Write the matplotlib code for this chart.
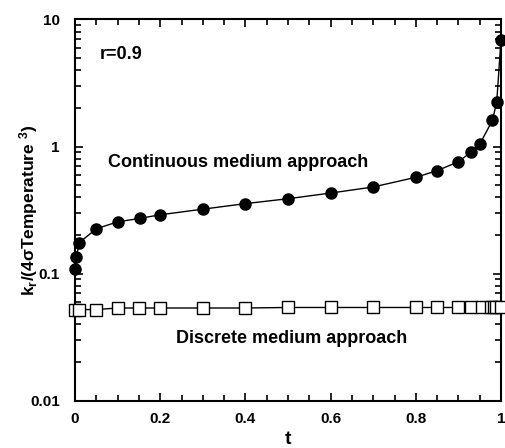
import matplotlib
matplotlib.use("Agg")
import matplotlib.pyplot as plt
from matplotlib.ticker import MultipleLocator, LogLocator, NullFormatter, FixedLocator, FixedFormatter

plt.rcParams['font.family'] = ['Liberation Sans', 'DejaVu Sans']
plt.rcParams['font.weight'] = 'bold'
plt.rcParams['mathtext.fontset'] = 'custom'
plt.rcParams['mathtext.rm'] = 'Liberation Sans:bold'
plt.rcParams['mathtext.default'] = 'rm'

# continuous medium approach
t_cont = [0.001, 0.003, 0.01, 0.05, 0.1, 0.153, 0.2, 0.3, 0.4, 0.5, 0.6, 0.7,
          0.8, 0.85, 0.9, 0.93, 0.95, 0.98, 0.99, 1.0]
k_cont = [0.108, 0.134, 0.175, 0.225, 0.255, 0.272, 0.290, 0.321, 0.355, 0.388,
          0.430, 0.480, 0.572, 0.645, 0.759, 0.905, 1.04, 1.61, 2.25, 6.93]

# discrete medium approach
t_disc = [0.0, 0.01, 0.05, 0.1, 0.15, 0.2, 0.3, 0.4, 0.5, 0.6, 0.7, 0.8, 0.85,
          0.9, 0.93, 0.955, 0.977, 0.983, 0.988, 1.0]
k_disc = [0.052, 0.052, 0.052, 0.0535, 0.0535, 0.0535, 0.0535, 0.0535, 0.054, 0.054,
          0.054, 0.054, 0.054, 0.054, 0.054, 0.054, 0.054, 0.054, 0.054, 0.054]

fig = plt.figure(figsize=(5.06, 4.48), dpi=100)
ax = fig.add_axes([75 / 506, 1 - 400.5 / 448, 426 / 506, 381 / 448])

ax.plot(t_cont, k_cont, '-', color='black', lw=1.0, marker='o', ms=8,
        mfc='black', mec='black', clip_on=False, zorder=3)
ax.plot(t_disc, k_disc, '-', color='black', lw=1.0, marker='s', ms=8,
        mfc='white', mec='black', mew=1.0, clip_on=False, zorder=3)

ax.set_yscale('log')
ax.set_xlim(0, 1)
ax.set_ylim(0.01, 10)

ax.xaxis.set_major_locator(MultipleLocator(0.2))
ax.xaxis.set_minor_locator(MultipleLocator(0.05))
ax.set_xticks([0, 0.2, 0.4, 0.6, 0.8, 1.0])
ax.set_xticklabels(['0', '0.2', '0.4', '0.6', '0.8', '1'])
ax.yaxis.set_major_locator(FixedLocator([0.01, 0.1, 1, 10]))
ax.yaxis.set_major_formatter(FixedFormatter(['0.01', '0.1', '1', '10']))
ax.yaxis.set_minor_locator(LogLocator(base=10, subs=range(2, 10)))
ax.yaxis.set_minor_formatter(NullFormatter())

ax.tick_params(which='both', direction='in', top=True, right=True,
               labelsize=11, width=1.2)
ax.tick_params(axis='x', pad=8)
ax.tick_params(axis='y', pad=11)
ax.tick_params(which='major', length=6)
ax.tick_params(which='minor', length=4)
for s in ax.spines.values():
    s.set_linewidth(1.5)

ax.set_xlabel('t', fontsize=14, fontweight='bold', labelpad=4)
ax.set_ylabel(r'k$_r$/(4σTemperature $^3$)', fontsize=12.5, fontweight='bold', labelpad=-7)

ax.text(0.058, 5.3, 'r=0.9', fontsize=13, fontweight='bold', va='center')
ax.text(0.078, 0.75, 'Continuous medium approach', fontsize=13, fontweight='bold', va='center')
ax.text(0.238, 0.0305, 'Discrete medium approach', fontsize=13, fontweight='bold', va='center')

fig.savefig('out.png', dpi=100)
